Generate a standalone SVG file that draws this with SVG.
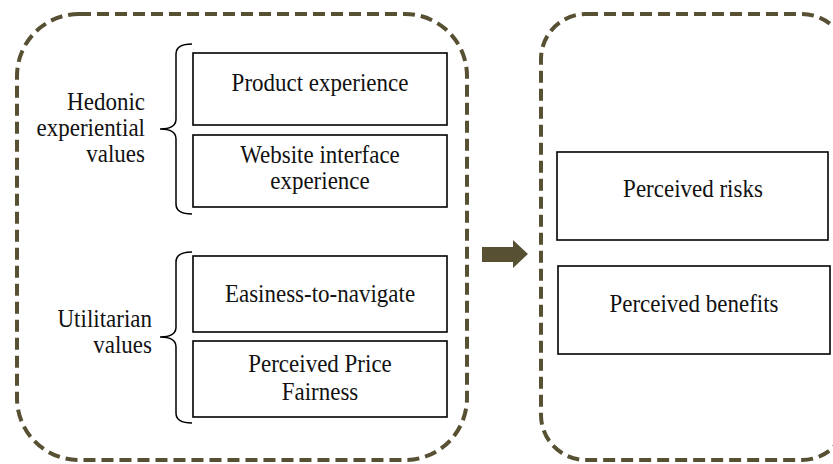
<svg xmlns="http://www.w3.org/2000/svg" width="833" height="464" viewBox="0 0 833 464">
  <style>
    .frame { fill: none; stroke: #575033; stroke-width: 4; stroke-dasharray: 12 6; }
    .box { fill: #ffffff; stroke: #000000; stroke-width: 1.6; }
    .brace { fill: none; stroke: #000000; stroke-width: 1.5; }
    text { font-family: "Liberation Serif", "Times New Roman", serif; font-size: 23px; fill: #111111; }
    .c { text-anchor: middle; }
    .r { text-anchor: end; }
  </style>
  <rect width="833" height="464" fill="#ffffff"/>

  <!-- dashed group frames -->
  <g id="group-values">
    <rect class="frame" x="17" y="14" width="450" height="446" rx="62" ry="62"/>
  </g>
  <g id="group-perceptions">
    <rect class="frame" x="541" y="14" width="306" height="446" rx="45" ry="45"/>
  </g>

  <!-- group labels with braces (text slightly stretched vertically) -->
  <g id="hedonic">
    <path class="brace" d="M192,44 Q176,44 176,54 L176,119 Q176,129 160,129 Q176,129 176,139 L176,204 Q176,214 192,214"/>
    <text class="r" transform="translate(145,110) scale(1,1.12)">Hedonic</text>
    <text class="r" transform="translate(145,136) scale(1,1.12)">experiential</text>
    <text class="r" transform="translate(145,162) scale(1,1.12)">values</text>
  </g>
  <g id="utilitarian">
    <path class="brace" d="M192,252 Q176,252 176,262 L176,327 Q176,337 160,337 Q176,337 176,347 L176,413 Q176,423 192,423"/>
    <text class="r" transform="translate(152,327) scale(1,1.12)">Utilitarian</text>
    <text class="r" transform="translate(152,353) scale(1,1.12)">values</text>
  </g>

  <!-- construct boxes -->
  <g id="product-experience">
    <rect class="box" x="193" y="53" width="254" height="72"/>
    <text class="c" transform="translate(320,91) scale(1,1.12)">Product experience</text>
  </g>
  <g id="website-interface">
    <rect class="box" x="193" y="135" width="254" height="72"/>
    <text class="c" transform="translate(320,163) scale(1,1.12)">Website interface</text>
    <text class="c" transform="translate(320,189) scale(1,1.12)">experience</text>
  </g>
  <g id="easiness">
    <rect class="box" x="193" y="256" width="254" height="76"/>
    <text class="c" transform="translate(320,302) scale(1,1.12)">Easiness-to-navigate</text>
  </g>
  <g id="price-fairness">
    <rect class="box" x="193" y="341" width="254" height="76"/>
    <text class="c" transform="translate(320,372) scale(1,1.12)">Perceived Price</text>
    <text class="c" transform="translate(320,400) scale(1,1.12)">Fairness</text>
  </g>
  <g id="perceived-risks">
    <rect class="box" x="557" y="152" width="271" height="88"/>
    <text class="c" transform="translate(693,197) scale(1,1.12)">Perceived risks</text>
  </g>
  <g id="perceived-benefits">
    <rect class="box" x="558" y="266" width="272" height="88"/>
    <text class="c" transform="translate(694,312) scale(1,1.12)">Perceived benefits</text>
  </g>

  <!-- connector between the two groups -->
  <g id="connectors">
    <polygon fill="#575033" points="482,247 513,247 513,240 528,254 513,268 513,262 482,262"/>
  </g>
</svg>
